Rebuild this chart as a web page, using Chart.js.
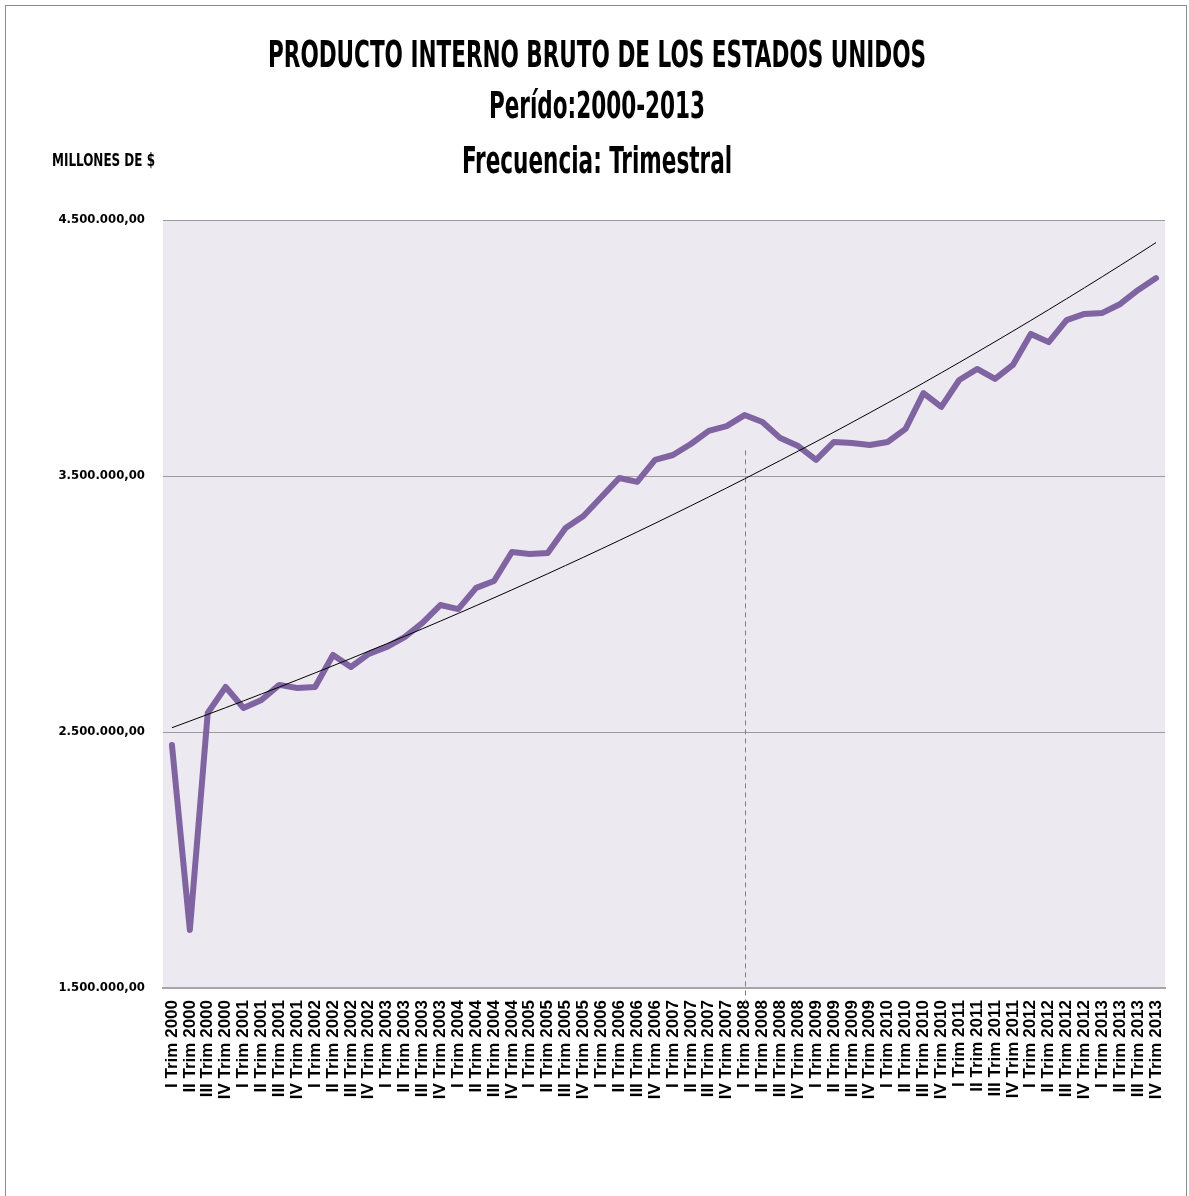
<!DOCTYPE html>
<html>
<head>
<meta charset="utf-8">
<script src="https://cdn.jsdelivr.net/npm/chart.js@4.4.1/dist/chart.umd.min.js"></script>
<style>
  html, body { margin: 0; padding: 0; background: #ffffff; }
  #wrap { width: 1189px; height: 1196px; }
</style>
</head>
<body>
<div id="wrap"><canvas id="c" width="1189" height="1196"></canvas></div>
<script>
// ---- DATA ----
const years = [2000, 2001, 2002, 2003, 2004, 2005, 2006, 2007, 2008, 2009, 2010, 2011, 2012, 2013];
const quarters = ['I', 'II', 'III', 'IV'];
const categories = [];
years.forEach(y => quarters.forEach(q => categories.push(q + ' Trim ' + y)));

// PIB (millones de $)
const gdpValues = [
  2449000, 1727000, 2574000, 2676000,   // 2000
  2594000, 2625000, 2684000, 2672000,   // 2001
  2676000, 2801000, 2754000, 2805000,   // 2002
  2832000, 2871000, 2926000, 2996000,   // 2003
  2980000, 3063000, 3090000, 3203000,   // 2004
  3195000, 3199000, 3297000, 3344000,   // 2005
  3418000, 3492000, 3477000, 3563000,   // 2006
  3582000, 3625000, 3676000, 3695000,   // 2007
  3738000, 3711000, 3648000, 3617000,   // 2008
  3563000, 3633000, 3629000, 3621000,   // 2009
  3633000, 3684000, 3824000, 3770000,   // 2010
  3875000, 3918000, 3879000, 3934000,   // 2011
  4055000, 4023000, 4109000, 4133000,   // 2012
  4137000, 4172000, 4227000, 4273000    // 2013
];

const yTicks = [1500000, 2500000, 3500000, 4500000];
const titleLines = ['PRODUCTO INTERNO BRUTO DE LOS ESTADOS UNIDOS', 'Perído:2000-2013', 'Frecuencia: Trimestral'];
const unitLabel = 'MILLONES DE $';
const markerCategory = 'I Trim 2008';
const markerTopValue = 3600000;

// Exponential trendline (least squares on ln y), as the spreadsheet trendline
function expTrend(values) {
  const n = values.length;
  let sx = 0, sy = 0, sxx = 0, sxy = 0;
  values.forEach((v, i) => { const l = Math.log(v); sx += i; sy += l; sxx += i * i; sxy += i * l; });
  const b = (n * sxy - sx * sy) / (n * sxx - sx * sx);
  const a = (sy - b * sx) / n;
  return values.map((_, i) => Math.exp(a + b * i));
}
const trendValues = expTrend(gdpValues);

function fmt(v) {
  const s = Math.round(v).toString().replace(/\B(?=(\d{3})+(?!\d))/g, '.');
  return s + ',00';
}

const COND = "'DejaVu Sans Condensed', 'DejaVu Sans', sans-serif";

// draws text horizontally compressed to look like a narrow font
function drawNarrow(ctx, text, x, y, size, sx, align) {
  ctx.save();
  ctx.font = 'bold ' + size + 'px ' + COND;
  ctx.fillStyle = '#000000';
  ctx.textBaseline = 'middle';
  ctx.textAlign = align;
  ctx.translate(x, y);
  ctx.scale(sx, 1);
  ctx.fillText(text, 0, 0);
  ctx.restore();
}

const framePlugin = {
  id: 'frame',
  beforeDraw(chart) {
    const ctx = chart.ctx;
    const a = chart.chartArea;
    ctx.save();
    ctx.fillStyle = '#ffffff';
    ctx.fillRect(0, 0, chart.width, chart.height);
    ctx.strokeStyle = '#8c8c8c';
    ctx.lineWidth = 1;
    ctx.strokeRect(5.5, 5.5, 1181, 1300);
    ctx.fillStyle = '#ECEAF0';
    ctx.fillRect(a.left, a.top, a.right - a.left, a.bottom - a.top);
    ctx.restore();
  },
  afterDraw(chart) {
    const ctx = chart.ctx;
    // title: three centred lines
    ctx.save();
    ctx.font = 'bold 38px ' + COND;
    const w1 = ctx.measureText(titleLines[0]).width;
    ctx.restore();
    const sx = 658 / w1;
    const cx = 597;
    const ys = [57, 108, 163];
    titleLines.forEach((t, i) => drawNarrow(ctx, t, cx, ys[i], 38, sx, 'center'));
    // unit label
    ctx.save();
    ctx.font = 'bold 18px ' + COND;
    const wu = ctx.measureText(unitLabel).width;
    ctx.restore();
    drawNarrow(ctx, unitLabel, 52, 161, 18, 103 / wu, 'left');
  }
};

const markerPlugin = {
  id: 'marker',
  beforeDatasetsDraw(chart) {
    const xs = chart.scales.x, ys = chart.scales.y;
    const idx = categories.indexOf(markerCategory);
    const x = Math.round(xs.getPixelForValue(idx)) + 0.5;
    const yTop = ys.getPixelForValue(markerTopValue);
    const yBot = chart.chartArea.bottom + 15;
    const ctx = chart.ctx;
    ctx.save();
    ctx.strokeStyle = '#7f7f7f';
    ctx.lineWidth = 1;
    ctx.setLineDash([5, 4]);
    ctx.beginPath();
    ctx.moveTo(x, yTop);
    ctx.lineTo(x, yBot);
    ctx.stroke();
    ctx.restore();
  }
};

new Chart(document.getElementById('c'), {
  type: 'line',
  data: {
    labels: categories,
    datasets: [
      {
        label: 'PIB',
        data: gdpValues,
        borderColor: '#8064A2',
        borderWidth: 6,
        pointRadius: 0,
        tension: 0,
        borderJoinStyle: 'round',
        borderCapStyle: 'round',
        fill: false,
        order: 2
      },
      {
        label: 'Tendencia',
        data: trendValues,
        borderColor: '#000000',
        borderWidth: 1,
        pointRadius: 0,
        tension: 0,
        fill: false,
        order: 1
      }
    ]
  },
  options: {
    responsive: false,
    animation: false,
    devicePixelRatio: 1,
    layout: { padding: { top: 220, left: 0, right: 24, bottom: 0 } },
    plugins: {
      legend: { display: false },
      tooltip: { enabled: false },
      title: { display: false }
    },
    scales: {
      x: {
        type: 'category',
        offset: true,
        grid: { display: false, drawTicks: false },
        border: { display: true, color: '#A6A6A6', width: 2 },
        ticks: {
          autoSkip: false,
          maxRotation: 90,
          minRotation: 90,
          padding: 12,
          color: '#000000',
          font: { family: "'Liberation Sans', Arial, sans-serif", size: 17, weight: 'bold' }
        },
        afterFit(scale) { scale.height = 208; }
      },
      y: {
        min: 1500000,
        max: 4500000,
        afterBuildTicks(scale) { scale.ticks = yTicks.map(v => ({ value: v })); },
        grid: { color: '#9a9a9a', lineWidth: 1, drawTicks: false },
        border: { display: false },
        ticks: {
          padding: 18,
          color: '#000000',
          font: { family: COND, size: 13, weight: 'bold' },
          callback: (v) => fmt(v)
        },
        afterFit(scale) { scale.width = 163; }
      }
    }
  },
  plugins: [framePlugin, markerPlugin]
});
</script>
</body>
</html>
